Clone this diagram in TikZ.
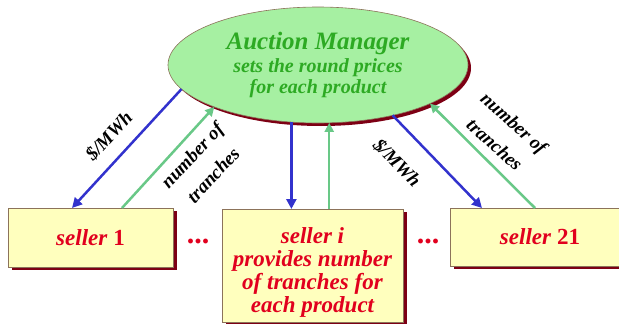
\documentclass[tikz,border=0pt]{standalone}
\usepackage{fontspec}
\setmainfont{Liberation Serif}
\usetikzlibrary{arrows.meta,shadows,shapes.geometric}

\definecolor{mgrfill}{RGB}{166,240,162}
\definecolor{mgrtext}{RGB}{45,170,35}
\definecolor{rimred}{RGB}{125,0,20}
\definecolor{edgebrown}{RGB}{140,115,90}
\definecolor{boxfill}{RGB}{255,255,190}
\definecolor{sellerred}{RGB}{225,0,30}
\definecolor{pricblue}{RGB}{50,50,205}
\definecolor{qtygreen}{RGB}{105,200,135}

\tikzset{
  manager/.style={ellipse, fill=mgrfill, draw=edgebrown, line width=0.6pt,
    minimum width=300pt, minimum height=116pt, inner sep=0pt, outer sep=0pt,
    text=mgrtext, align=center,
    general shadow={fill=rimred, shadow xshift=3pt, shadow yshift=-3pt}},
  sellerbox/.style={rectangle, fill=boxfill, draw=edgebrown, line width=0.6pt,
    inner sep=0pt, outer sep=0pt, text=sellerred, align=center,
    font=\fontsize{23}{23}\selectfont\bfseries\itshape,
    general shadow={fill=rimred, shadow xshift=4pt, shadow yshift=-2.5pt}},
  flowlabel/.style={font=\fontsize{19}{29}\selectfont\bfseries\itshape,
    align=center, inner sep=0pt},
  ellipsis/.style={text=sellerred, font=\fontsize{30}{30}\selectfont\bfseries, inner sep=0pt},
  pricearrow/.style={draw=pricblue, line width=2.5pt,
    -{Triangle[length=10pt,width=10pt]}},
  qtyarrow/.style={draw=qtygreen, line width=2.5pt,
    -{Triangle[length=9pt,width=9pt]}},
}

\begin{document}
\begin{tikzpicture}[x=1pt,y=-1pt]
\useasboundingbox (0,0) rectangle (619,324);

% the auctioneer
\node[manager] (mgr) at (318,65)
  {{\fontsize{25}{25}\selectfont\bfseries\itshape Auction Manager}\\[3pt]
   {\fontsize{20}{22}\selectfont\bfseries\itshape sets the round prices}\\[2pt]
   {\fontsize{20}{22}\selectfont\bfseries\itshape for each product}};

% the sellers
\node[sellerbox, minimum width=165pt, minimum height=59pt] (s1) at (90.5,237.5)
  {seller \textup{1}};
\node[sellerbox, minimum width=181pt, minimum height=113pt] (si) at (312.5,265.5)
  {\rule{0pt}{30pt}seller i\\provides number\\of tranches for\\each product};
\node[sellerbox, minimum width=180pt, minimum height=58pt] (s21) at (540,237)
  {seller \textup{21}};

\node[ellipsis] (dotsA) at (198,241) {...};
\node[ellipsis] (dotsB) at (428,241) {...};

% prices go down, quantities come back up
\draw[pricearrow] (mgr.190.3) -- ([xshift=64pt]s1.north west);
\draw[qtyarrow] ([xshift=114pt]s1.north west) -- (mgr.202.3);
\draw[pricearrow] (mgr.245.5) -- (mgr.245.5 |- si.north);
\draw[qtyarrow] (mgr.281.7 |- si.north) -- (mgr.281.7);
\draw[pricearrow] (mgr.326) -- ([xshift=32pt]s21.north west);
\draw[qtyarrow] ([xshift=85pt]s21.north west) -- (mgr.341.4);

% flow labels
\node[flowlabel, rotate=47] (lpL) at (109,136) {\$/MWh};
\node[flowlabel, rotate=47] (lqL) at (202.5,165) {number of\\tranches};
\node[flowlabel, rotate=-46] (lpR) at (397,163) {\$/MWh};
\node[flowlabel, rotate=-42] (lqR) at (504.5,133.5) {number of\\tranches};
\end{tikzpicture}
\end{document}
